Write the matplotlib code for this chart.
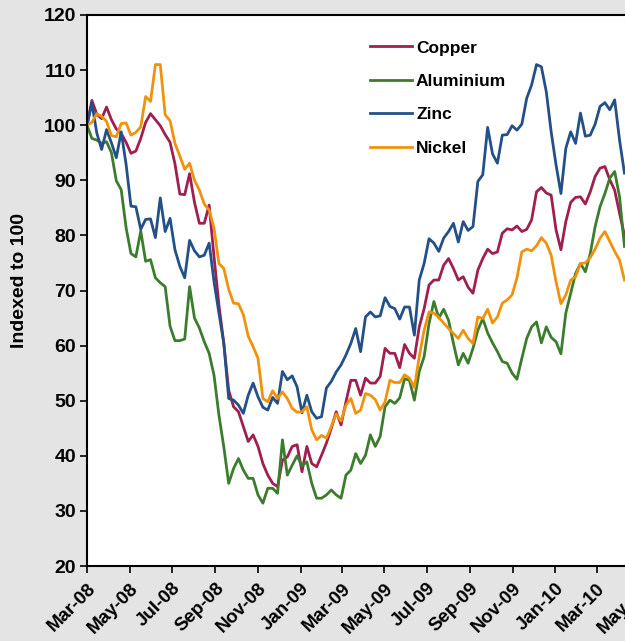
"""Base metals, weekly prices indexed to 100 (Mar-08 = 100)."""
import matplotlib
matplotlib.use("Agg")
import matplotlib.pyplot as plt
import matplotlib.dates as mdates
import pandas as pd

plt.rcParams["font.family"] = ["Liberation Sans", "DejaVu Sans"]
plt.rcParams["font.weight"] = "bold"

dates = pd.date_range("2008-03-01", periods=111, freq="7D")

copper = [
    100, 104.5, 102, 101.2, 103.3, 101, 99.3, 98.5, 96.9, 94.9,
    95.3, 97.6, 100.5, 102.1, 101, 99.9, 98.3, 96.9, 93, 87.5,
    87.4, 91.2, 86, 82.2, 82.2, 85.5, 76.1, 67.4, 60.4, 51.9,
    48.9, 48, 45.3, 42.6, 43.8, 41.7, 38.6, 36.5, 35, 34.4,
    39.2, 39.8, 41.7, 42, 37.1, 41.7, 38.6, 38, 40.1, 42.3,
    45, 48, 45.6, 49.8, 53.7, 53.7, 51, 54.1, 53.2, 53.2,
    54.4, 59.5, 58.6, 58.6, 56, 60.2, 58.6, 57.7, 63.4, 66.7,
    71, 71.9, 71.9, 74.6, 75.8, 74, 71.9, 72.5, 70.6, 69.5,
    73.7, 75.8, 77.5, 76.7, 77, 80.4, 81.2, 81, 81.7, 80.7,
    81.1, 82.8, 87.9, 88.7, 87.7, 87.3, 81, 77.4, 82.5, 86,
    86.9, 87, 85.7, 87.9, 90.7, 92.2, 92.5, 90.1, 88.2, 84,
    80,
]
aluminium = [
    100, 97.6, 97.3, 96.7, 97, 95, 89.9, 88.3, 81.4, 76.7,
    76.1, 80.8, 75.3, 75.6, 72.3, 71.4, 70.7, 63.5, 60.9, 60.9,
    61.2, 70.7, 65, 63.2, 60.7, 58.6, 54.6, 47.4, 41.6, 35,
    37.7, 39.5, 37.4, 35.9, 35.9, 32.9, 31.4, 34.1, 34.1, 33.2,
    42.9, 36.5, 38.3, 40, 38.2, 38.9, 35, 32.3, 32.3, 32.9,
    33.8, 32.9, 32.3, 36.5, 37.4, 40.4, 38.6, 40.1, 43.8, 41.7,
    43.5, 48.9, 50.1, 49.5, 50.5, 54, 53.7, 50.1, 55.3, 58,
    64, 68, 65, 66.6, 64.6, 60.4, 56.5, 58.6, 56.8, 59.5,
    62.8, 64.9, 62.3, 60.5, 58.9, 57.1, 56.8, 55, 53.9, 57.7,
    61.3, 63.4, 64.3, 60.5, 63.4, 61.5, 60.7, 58.5, 65.9, 69.5,
    73.1, 74.9, 73.4, 76.7, 81.6, 85.2, 87.6, 90.4, 91.6, 87,
    78,
]
zinc = [
    100, 104, 98.6, 95.6, 99.2, 96.8, 94.1, 98.8, 92.9, 85.3,
    85.2, 81.1, 82.9, 83, 79.6, 86.8, 80.7, 83.1, 77.4, 74.4,
    72.3, 79.1, 77.2, 76.1, 76.4, 78.6, 71.6, 65.9, 60.4, 50.4,
    50.1, 49.2, 47.7, 51, 53.2, 50.7, 48.8, 48.3, 50.6, 49.5,
    55.3, 53.8, 54.5, 52.5, 47.8, 51, 48, 46.8, 47.1, 52.3,
    53.5, 55.2, 56.5, 58.3, 60.4, 63.1, 58.9, 65.2, 66.1, 65.2,
    65.4, 68.7, 67.1, 66.7, 64.8, 67, 67, 61.9, 71.9, 74.9,
    79.4, 78.6, 77.1, 79.5, 80.7, 82.2, 78.8, 82.5, 80.9, 81.6,
    89.8, 91, 99.6, 94.8, 93.1, 98.2, 98.3, 99.9, 99.1, 100.2,
    104.9, 107.3, 111, 110.6, 106.1, 98.8, 92.8, 87.6, 95.8, 98.8,
    96.7, 102.2, 98, 98.2, 100.2, 103.4, 104.1, 102.8, 104.6, 97.3,
    91.3,
]
nickel = [
    100, 100.5, 102.1, 101.6, 100.7, 98.1, 97.9, 100.3, 100.4, 98.2,
    98.7, 99.7, 105.2, 104.3, 111, 111, 101.9, 100.8, 96.7, 94.4,
    92, 93.1, 90, 88.2, 85.7, 84.6, 81.3, 74.9, 74, 70.2,
    67.7, 67.6, 65.6, 61.7, 59.8, 57.7, 50.4, 49.8, 51.8, 50.4,
    51.6, 50.4, 48.6, 47.9, 48, 48.9, 44.7, 42.9, 43.7, 43.2,
    45.3, 47.6, 46.3, 49.2, 50.4, 47.7, 48.3, 51.3, 51, 50.2,
    48.3, 49.8, 53.7, 53.3, 53.3, 54.7, 54.1, 52.4, 58, 62.8,
    66.1, 65.9, 65.1, 64.1, 63.1, 62.2, 61.3, 62.8, 61.3, 60.4,
    65.2, 64.9, 66.6, 64.1, 65.2, 67.7, 68.3, 69.2, 72.3, 77,
    77.5, 77.2, 78.1, 79.6, 78.6, 76.4, 71.6, 67.6, 69.2, 71.9,
    72.5, 74.9, 75, 76, 77.5, 79.5, 80.7, 78.9, 77.1, 75.5,
    71.9,
]

series = [
    ("Copper", copper, "#a01e50"),
    ("Aluminium", aluminium, "#3c7d2d"),
    ("Zinc", zinc, "#245088"),
    ("Nickel", nickel, "#f0920c"),
]

fig = plt.figure(figsize=(6.25, 6.41), dpi=100, facecolor="#e4e4e4")
# plot area runs past the right edge of the figure, so the last months are cut off
ax = fig.add_axes([0.1392, 0.117, 0.899, 0.8596])
ax.set_facecolor("white")

for name, vals, col in series:
    ax.plot(dates, vals, color=col, lw=2.0, label=name, solid_joinstyle="round")

ax.set_ylim(20, 120)
ax.set_yticks(range(20, 121, 10))
ax.set_xlim(pd.Timestamp("2008-03-01"), pd.Timestamp("2010-05-15"))
ax.xaxis.set_major_locator(mdates.MonthLocator(bymonth=[1, 3, 5, 7, 9, 11]))
ax.xaxis.set_major_formatter(mdates.DateFormatter("%b-%y"))

ax.tick_params(axis="y", direction="out", length=5, width=1.2, labelsize=14, pad=3)
ax.tick_params(axis="x", direction="out", length=5, width=1.2, labelsize=13.5, pad=5)
for lab in ax.get_xticklabels():
    lab.set_rotation(45)
    lab.set_ha("right")
    lab.set_va("top")
    lab.set_rotation_mode("anchor")
    lab.set_fontweight("bold")
for lab in ax.get_yticklabels():
    lab.set_fontweight("bold")

for s in ("left", "top", "bottom"):
    ax.spines[s].set_linewidth(1.5)
ax.spines["right"].set_visible(False)

fig.text(0.032, 0.563, "Indexed to 100", rotation=90, ha="center", va="center",
         fontsize=14, fontweight="bold")

ax.legend(loc="upper left", bbox_to_anchor=(0.592, 0.937), bbox_transform=fig.transFigure,
          frameon=False, handlelength=2.4, handletextpad=0.25,
          labelspacing=1.05, borderpad=0, borderaxespad=0,
          prop={"weight": "bold", "size": 12.5})

fig.savefig("out.png", dpi=100, facecolor=fig.get_facecolor())
